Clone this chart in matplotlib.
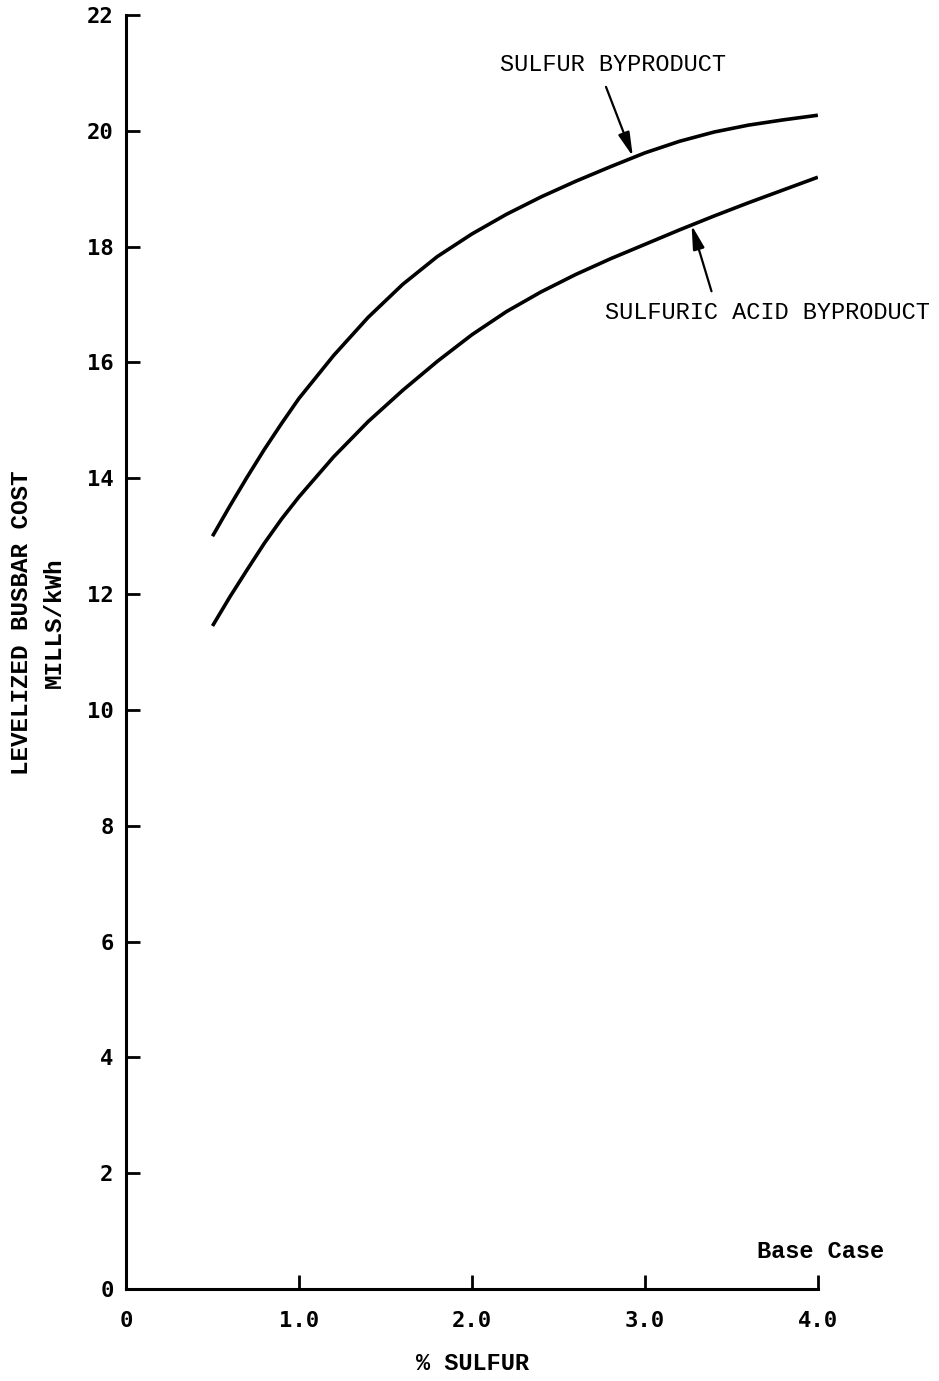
import matplotlib
matplotlib.use('Agg')
import matplotlib.pyplot as plt

#### values
sulfur_x = [0.5, 0.6, 0.7, 0.8, 0.9, 1.0, 1.2, 1.4, 1.6, 1.8, 2.0,
            2.2, 2.4, 2.6, 2.8, 3.0, 3.2, 3.4, 3.6, 3.8, 4.0]
sulfur_y = [13.0, 13.52, 14.02, 14.5, 14.95, 15.38, 16.12, 16.78, 17.35, 17.83, 18.22,
            18.56, 18.86, 19.13, 19.38, 19.62, 19.82, 19.98, 20.1, 20.19, 20.27]

acid_x = [0.5, 0.6, 0.7, 0.8, 0.9, 1.0, 1.2, 1.4, 1.6, 1.8, 2.0,
          2.2, 2.4, 2.6, 2.8, 3.0, 3.2, 3.4, 3.6, 3.8, 4.0]
acid_y = [11.45, 11.95, 12.42, 12.88, 13.3, 13.68, 14.37, 14.98, 15.52, 16.02, 16.48,
          16.88, 17.22, 17.52, 17.79, 18.04, 18.29, 18.53, 18.76, 18.98, 19.2]

x_ticks = [0, 1.0, 2.0, 3.0, 4.0]
x_labels = ['0', '1.0', '2.0', '3.0', '4.0']
y_ticks = list(range(0, 23, 2))

mono = 'Liberation Mono'
tickfont = 'DejaVu Sans Mono'
arrow = dict(arrowstyle='-|>,head_length=0.9,head_width=0.22', color='black',
             lw=1.6, mutation_scale=16, shrinkA=0, shrinkB=0)

fig = plt.figure(figsize=(9.39, 13.81), dpi=100)
ax = fig.add_axes([0.1342, 0.0666, 0.871 - 0.1342, 0.9891 - 0.0666])

ax.plot(sulfur_x, sulfur_y, color='black', lw=2.6, solid_capstyle='butt')
ax.plot(acid_x, acid_y, color='black', lw=2.6, solid_capstyle='butt')

ax.set_xlim(0, 4.0)
ax.set_ylim(0, 22)
ax.spines['top'].set_visible(False)
ax.spines['right'].set_visible(False)
ax.spines['left'].set_linewidth(2.2)
ax.spines['bottom'].set_linewidth(2.2)

ax.set_xticks(x_ticks)
ax.set_xticklabels(x_labels)
ax.set_yticks(y_ticks)
ax.tick_params(axis='both', direction='in', width=2, colors='black')
ax.tick_params(axis='x', length=10, pad=16)
ax.tick_params(axis='y', length=10, pad=9)
for lab in ax.get_xticklabels() + ax.get_yticklabels():
    lab.set_fontfamily(tickfont)
    lab.set_fontweight('bold')
    lab.set_fontsize(16)

#### annotations
ax.text(2.16, 21.14, 'SULFUR BYPRODUCT', fontfamily=mono, fontsize=17,
        va='center', ha='left')
ax.annotate('', xy=(2.93, 19.56), xytext=(2.775, 20.76), arrowprops=arrow)

ax.text(2.77, 16.87, 'SULFURIC ACID BYPRODUCT', fontfamily=mono, fontsize=17,
        va='center', ha='left', clip_on=False)
ax.annotate('', xy=(3.27, 18.37), xytext=(3.385, 17.23), arrowprops=arrow)

ax.text(3.65, 0.64, 'Base Case', fontfamily=mono, fontweight='bold',
        fontsize=17, va='center', ha='left', clip_on=False)

#### axis labels
fig.text(0.503, 1 - 1363 / 1381, '% SULFUR', fontfamily=mono, fontweight='bold',
         fontsize=17, ha='center', va='center')
fig.text(0.040, 1 - 623 / 1381, 'LEVELIZED BUSBAR COST\nMILLS/kWh', fontfamily=mono,
         fontweight='bold', fontsize=17.5, ha='center', va='center',
         rotation=90, multialignment='center', linespacing=1.55)

fig.savefig('out.png', dpi=100, facecolor='white')
